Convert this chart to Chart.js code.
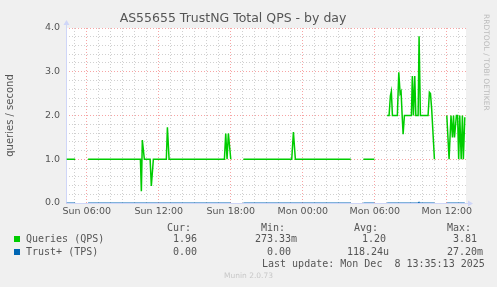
<!DOCTYPE html>
<html>
<head>
<meta charset="utf-8">
<script src="https://cdn.jsdelivr.net/npm/chart.js@4"></script>
<style>
  body { margin: 0; background: #f0f0f0; }
  #wrap { position: relative; width: 497px; height: 287px; overflow: hidden; }
  #chart { position: absolute; left: 0; top: 0; }
  .t { position: absolute; white-space: pre; font-family: "DejaVu Sans Mono", monospace; font-size: 10px; line-height: 12px; color: #555; }
  .box { position: absolute; width: 6px; height: 6px; }
  #rrd { position: absolute; left: 482px; top: 14px; font-family: "DejaVu Sans", sans-serif; font-size: 7.5px; color: #bbb; writing-mode: vertical-rl; white-space: nowrap; }
  #munin { position: absolute; left: 0; width: 497px; top: 271px; text-align: center; font-family: "DejaVu Sans", sans-serif; font-size: 7.5px; color: #c8c8c8; }
</style>
</head>
<body>
<div id="wrap">
  <canvas id="chart" width="497" height="287"></canvas>
  <div id="rrd">RRDTOOL / TOBI OETIKER</div>

  <div class="t" style="left:167px; top:222px">Cur:</div>
  <div class="t" style="left:261px; top:222px">Min:</div>
  <div class="t" style="left:354px; top:222px">Avg:</div>
  <div class="t" style="left:447px; top:222px">Max:</div>

  <div class="box" style="left:14px; top:236px; background:#00cc00"></div>
  <div class="t" style="left:26px; top:233px">Queries (QPS)</div>
  <div class="t" style="left:173px; top:233px">1.96</div>
  <div class="t" style="left:255px; top:233px">273.33m</div>
  <div class="t" style="left:362px; top:233px">1.20</div>
  <div class="t" style="left:453px; top:233px">3.81</div>

  <div class="box" style="left:14px; top:249px; background:#0066b3"></div>
  <div class="t" style="left:26px; top:246px">Trust+ (TPS)</div>
  <div class="t" style="left:173px; top:246px">0.00</div>
  <div class="t" style="left:267px; top:246px">0.00</div>
  <div class="t" style="left:347px; top:246px">118.24u</div>
  <div class="t" style="left:447px; top:246px">27.20m</div>

  <div class="t" style="left:262px; top:258px">Last update: Mon Dec  8 13:35:13 2025</div>
  <div id="munin">Munin 2.0.73</div>
</div>

<script>
// hours counted from Sun 00:00; null = no data
var qpsHours = [4.33, 5.03, 5.5,
    6.11, 10.47, 10.55, 10.63, 10.8, 11.28, 11.38, 11.55, 12.63, 12.72, 12.86,
    17.47, 17.58, 17.69, 17.8, 18.0, 18.5,
    19.05, 23.08, 23.22, 23.38, 28.0, 28.5,
    29.05, 29.97, 30.5,
    31.03, 31.19, 31.3, 31.38, 31.47, 31.88, 32.0, 32.11, 32.19, 32.28, 32.36, 32.47,
    33.05, 33.13, 33.22, 33.33, 33.42, 33.61, 33.69, 33.8, 34.44, 34.55, 34.64, 34.74, 34.97, 35.5,
    36.0, 36.19, 36.35, 36.47, 36.56, 36.64, 36.8, 36.9, 36.99, 37.08, 37.2, 37.3, 37.38, 37.5];
var qpsValues = [1.0, 1.0, null,
    1.0, 1.0, 0.27, 1.44, 1.0, 1.0, 0.39, 1.0, 1.0, 1.73, 1.0,
    1.0, 1.59, 1.0, 1.59, 1.0, null,
    1.0, 1.0, 1.62, 1.0, 1.0, null,
    1.0, 1.0, null,
    2.0, 2.0, 2.45, 2.55, 2.0, 2.0, 2.99, 2.5, 2.55, 2.0, 1.57, 2.0,
    2.0, 2.9, 2.0, 2.9, 2.0, 2.0, 3.81, 2.0, 2.0, 2.53, 2.5, 2.15, 1.0, null,
    2.0, 1.0, 2.0, 1.5, 2.0, 1.5, 2.0, 2.0, 1.0, 2.0, 1.0, 2.0, 1.0, 1.96];

var trustHours = [4.33, 5.03, 5.5, 6.11, 18.0, 18.5, 19.05, 28.0, 28.5, 29.05, 29.97, 30.5,
    31.03, 33.6, 33.69, 33.78, 34.97, 35.5, 36.0, 37.5];
var trustValues = [0, 0, null, 0, 0, null, 0, 0, null, 0, 0, null,
    0, 0, 0.027, 0, 0, null, 0, 0];

var xTickLabels = { 6: 'Sun 06:00', 12: 'Sun 12:00', 18: 'Sun 18:00', 24: 'Mon 00:00', 30: 'Mon 06:00', 36: 'Mon 12:00' };
var xMin = 4.27, xMax = 37.6;

function points(hours, values) {
    return hours.map(function(h, i) { return { x: h, y: values[i] }; });
}

var canvasBg = {
    id: 'canvasBg',
    beforeDraw: function(chart) {
        var a = chart.chartArea, ctx = chart.ctx;
        ctx.save();
        ctx.fillStyle = '#ffffff';
        ctx.fillRect(a.left, a.top, a.right - a.left, a.bottom - a.top);
        ctx.restore();
    },
    beforeDatasetsDraw: function(chart) {
        // munin style axes with arrows
        var a = chart.chartArea, ctx = chart.ctx;
        var x0 = Math.round(a.left) + 0.5, y0 = Math.round(a.bottom) + 0.5;
        ctx.save();
        ctx.strokeStyle = '#cfd6f8';
        ctx.fillStyle = '#cfd6f8';
        ctx.lineWidth = 1;
        ctx.beginPath();
        ctx.moveTo(x0, y0); ctx.lineTo(a.right + 3, y0);
        ctx.moveTo(x0, y0); ctx.lineTo(x0, a.top - 3);
        ctx.stroke();
        ctx.beginPath();
        ctx.moveTo(a.right + 2, y0 - 3); ctx.lineTo(a.right + 7, y0); ctx.lineTo(a.right + 2, y0 + 3);
        ctx.closePath(); ctx.fill();
        ctx.beginPath();
        ctx.moveTo(x0 - 3, a.top - 3); ctx.lineTo(x0, a.top - 8); ctx.lineTo(x0 + 3, a.top - 3);
        ctx.closePath(); ctx.fill();
        ctx.restore();
    }
};

function isMajor(v, step) {
    return Math.abs(v / step - Math.round(v / step)) < 1e-6;
}

new Chart(document.getElementById('chart'), {
    type: 'line',
    data: {
        datasets: [{
            label: 'Queries (QPS)',
            data: points(qpsHours, qpsValues),
            borderColor: '#00cc00',
            borderWidth: 1.5,
            pointRadius: 0,
            tension: 0,
            spanGaps: false
        }, {
            label: 'Trust+ (TPS)',
            data: points(trustHours, trustValues),
            borderColor: '#0066b3',
            borderWidth: 1,
            pointRadius: 0,
            tension: 0,
            spanGaps: false
        }]
    },
    options: {
        responsive: false,
        animation: false,
        devicePixelRatio: 1,
        layout: { padding: { left: 0, right: 31, top: 0, bottom: 0 } },
        plugins: {
            legend: { display: false },
            tooltip: { enabled: false },
            title: {
                display: true,
                text: 'AS55655 TrustNG Total QPS - by day',
                color: '#555',
                font: { family: 'DejaVu Sans', size: 12.5, weight: 'normal' },
                padding: { top: 11, bottom: 2 }
            }
        },
        scales: {
            x: {
                type: 'linear',
                min: xMin,
                max: xMax,
                afterFit: function(scale) { scale.height = 84; },
                ticks: {
                    stepSize: 1,
                    includeBounds: false,
                    autoSkip: false,
                    maxRotation: 0,
                    padding: 3,
                    color: '#555',
                    font: { family: 'DejaVu Sans', size: 9.5 },
                    callback: function(v) { return xTickLabels[v] || ''; }
                },
                grid: {
                    drawTicks: false,
                    color: function(c) {
                        return isMajor(c.tick.value, 6) ? 'rgba(240,90,90,0.55)' : 'rgba(150,150,150,0.45)';
                    }
                },
                border: { display: false, dash: [1, 2] }
            },
            y: {
                min: 0,
                max: 4,
                afterFit: function(scale) { scale.width = 66; },
                ticks: {
                    stepSize: 0.2,
                    autoSkip: false,
                    padding: 6,
                    color: '#555',
                    font: { family: 'DejaVu Sans', size: 9.5 },
                    callback: function(v) { return isMajor(v, 1) ? v.toFixed(1) : ''; }
                },
                grid: {
                    drawTicks: false,
                    color: function(c) {
                        return isMajor(c.tick.value, 1) ? 'rgba(240,90,90,0.55)' : 'rgba(150,150,150,0.45)';
                    }
                },
                border: { display: false, dash: [1, 2] },
                title: {
                    display: true,
                    text: 'queries / second',
                    color: '#555',
                    font: { family: 'DejaVu Sans', size: 10 },
                    padding: { top: 4, bottom: 0 }
                }
            }
        }
    },
    plugins: [canvasBg]
});
</script>
</body>
</html>
